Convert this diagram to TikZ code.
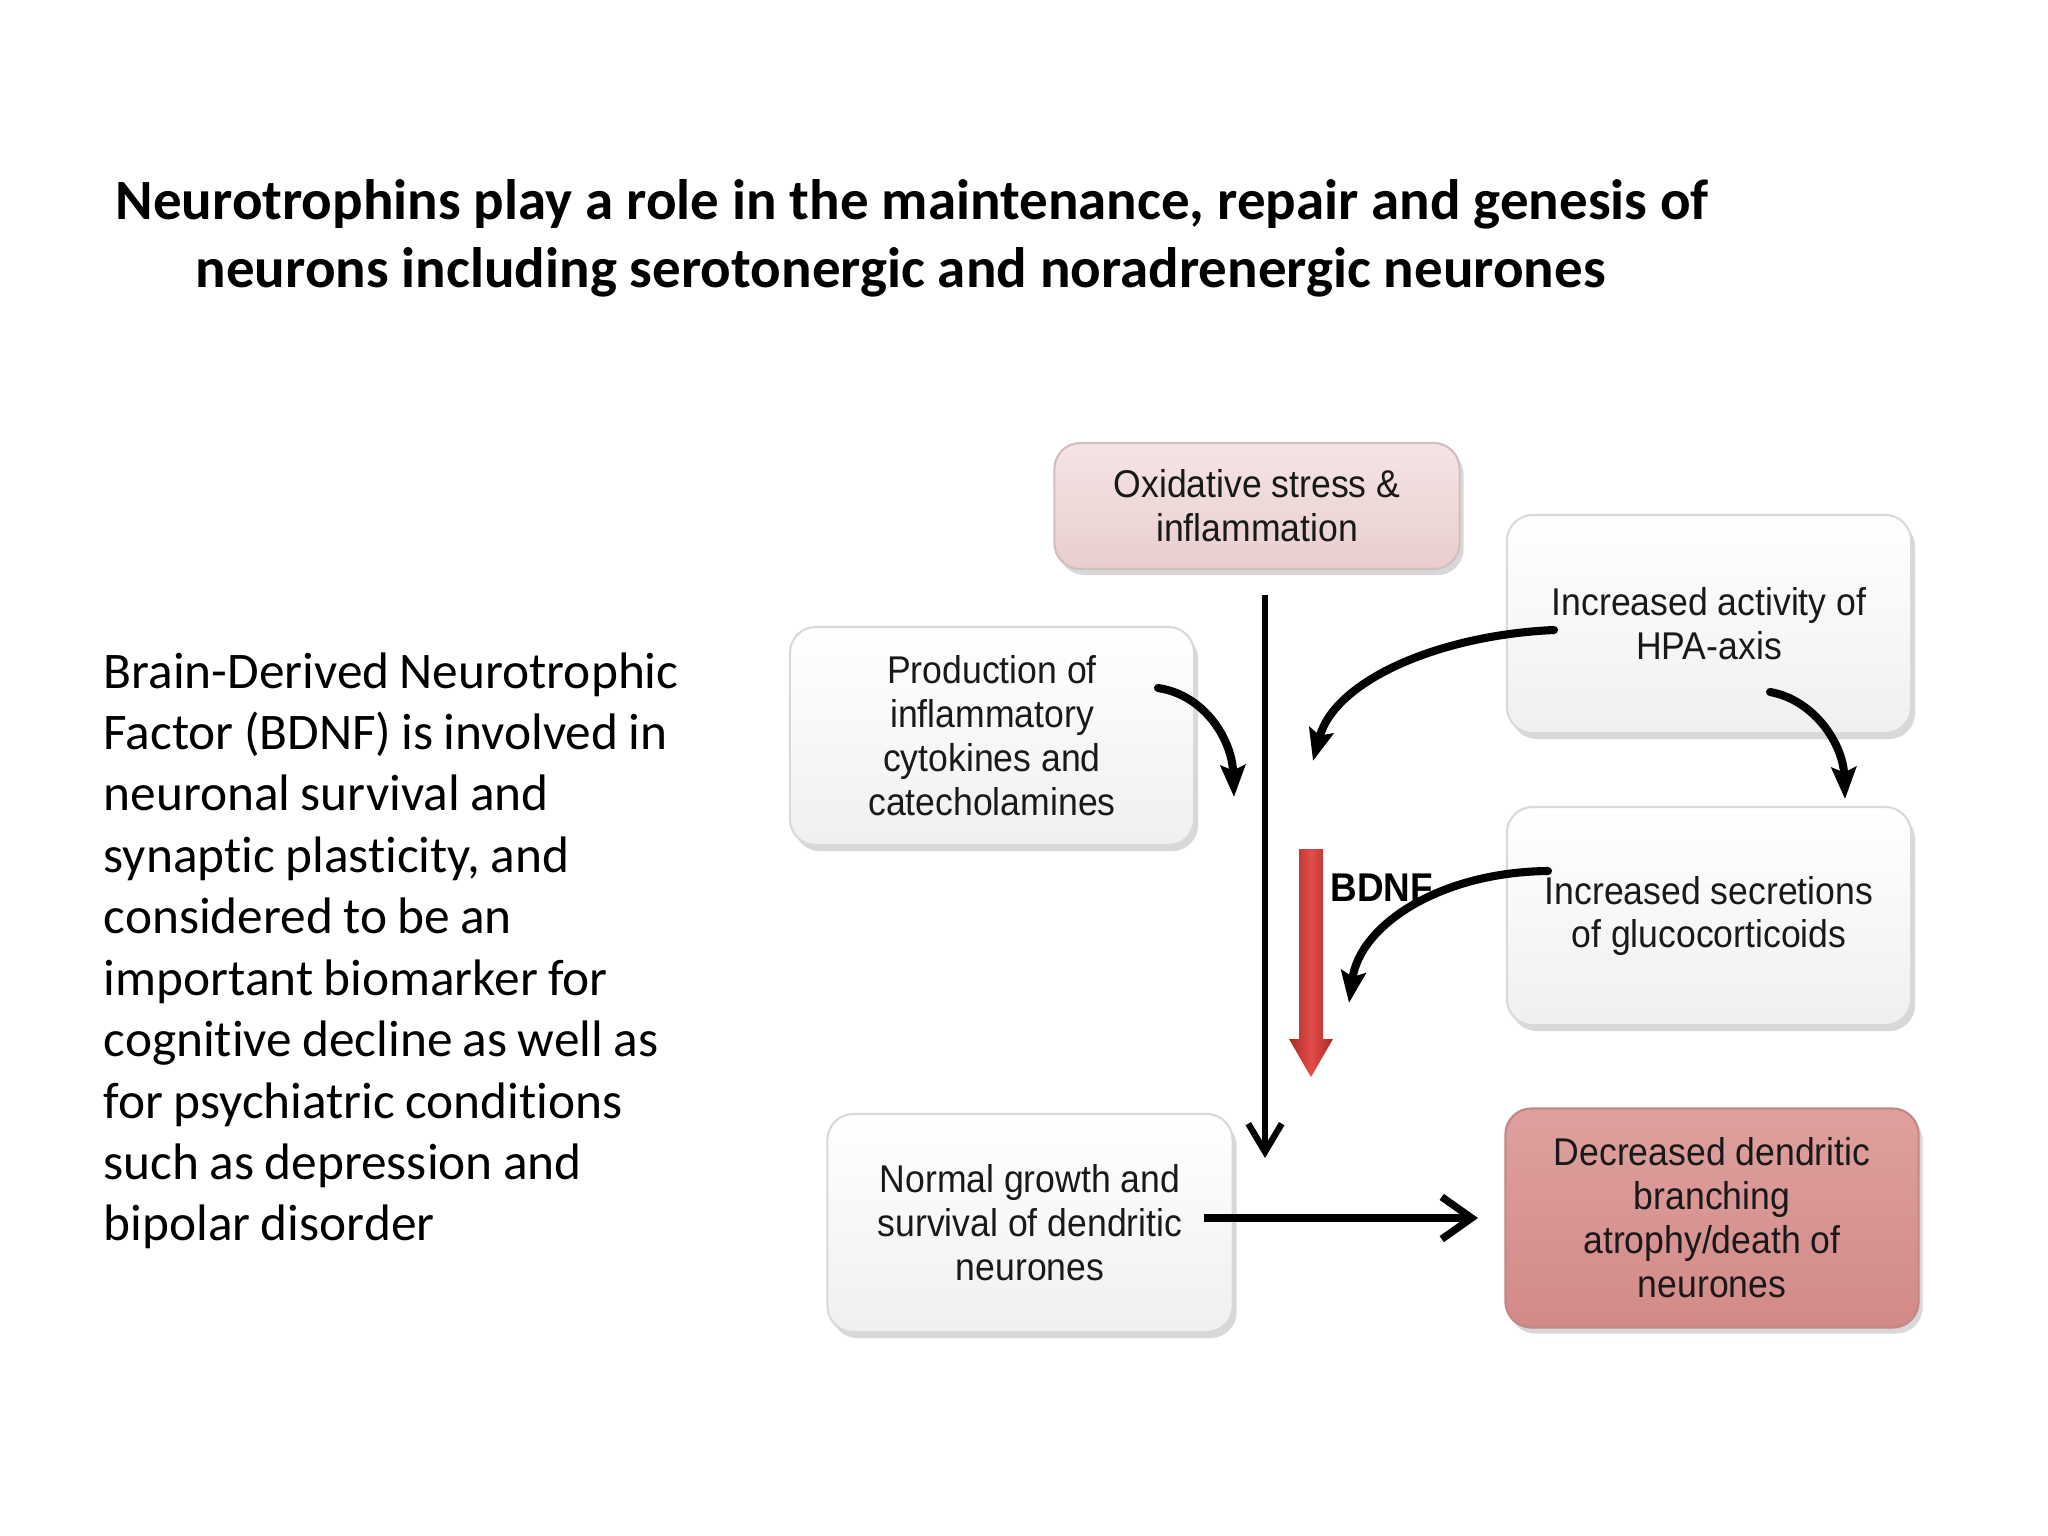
\documentclass[tikz,border=0pt]{standalone}
\usepackage{fontspec}
\setmainfont{Carlito}[Ligatures=NoCommon]
\newfontfamily\boxfont[FakeStretch=0.92]{Liberation Sans}
\usetikzlibrary{arrows.meta,shadows}
\definecolor{pinkA}{RGB}{245,228,228}
\definecolor{pinkB}{RGB}{232,206,206}
\definecolor{roseA}{RGB}{222,160,158}
\definecolor{roseB}{RGB}{210,138,136}
\definecolor{redM}{RGB}{226,78,72}
\definecolor{redD}{RGB}{172,40,40}
\begin{document}
\begin{tikzpicture}[x=0.01cm,y=-0.01cm,
  box/.style={draw=gray!30, line width=0.6pt, rounded corners=0.26cm,
    top color=white, bottom color=gray!12,
    drop shadow={shadow xshift=0.04cm, shadow yshift=-0.06cm, opacity=0.3, fill=gray},
    font=\boxfont\fontsize{11}{12.5}\selectfont, align=center, text=black!90, inner sep=0pt},
  pinkbox/.style={box, top color=pinkA, bottom color=pinkB, draw=pinkB!80!gray},
  rosebox/.style={box, top color=roseA, bottom color=roseB, draw=roseB!80!gray},
  vline/.style={line width=1.8pt, -{Straight Barb[length=8pt,width=9.5pt,line width=1.8pt]}},
  hline/.style={line width=2.1pt, -{Straight Barb[length=8.5pt,width=12pt,line width=2.1pt]}},
  curve/.style={line width=2.3pt, line cap=round, -{Stealth[length=9pt,width=7pt,inset=1.5pt]}},
  title/.style={font=\bfseries\fontsize{16.2}{19}\selectfont, anchor=base west, inner sep=0pt},
]
\useasboundingbox[fill=white] (0,0) rectangle (2048,1536);

\node[title] (t1) at (115,219) {Neurotrophins play a role in the maintenance, repair and genesis of};
\node[title] (t2) at (195,287) {neurons including serotonergic and noradrenergic neurones};

\node[anchor=base west, inner sep=0pt, text width=8cm, align=left,
  font=\fontsize{14.6}{17.47}\selectfont] (para) at (103,688)
 {\spaceskip=0.2em\relax\xspaceskip=0.2em\relax
  Brain-Derived Neurotrophic\\
  Factor (BDNF) is involved in\\
  neuronal survival and\\
  synaptic plasticity, and\\
  considered to be an\\
  important biomarker for\\
  cognitive decline as well as\\
  for psychiatric conditions\\
  such as depression and\\
  bipolar disorder};

\node[pinkbox, minimum width=4.05cm, minimum height=1.26cm] (ox) at (1257,506) {Oxidative stress \&\\inflammation};
\node[box, minimum width=4.04cm, minimum height=2.18cm] (hpa) at (1709,624) {Increased activity of\\HPA-axis};
\node[box, minimum width=4.04cm, minimum height=2.18cm] (prod) at (992,736) {Production of\\inflammatory\\cytokines and\\catecholamines};
\node[box, minimum width=4.04cm, minimum height=2.18cm] (gluco) at (1709,916) {Increased secretions\\of glucocorticoids};
\node[box, minimum width=4.05cm, minimum height=2.18cm] (normal) at (1030,1223) {Normal growth and\\survival of dendritic\\neurones};
\node[rosebox, minimum width=4.13cm, minimum height=2.19cm] (decr) at (1712,1218) {Decreased dendritic\\branching\\atrophy/death of\\neurones};

% vertical main arrow
\coordinate (vtop) at (1265,595);
\coordinate (vend) at (1265,1158);
\draw[vline] (vtop) -- (vend);

% BDNF red arrow
\shade[left color=redD, right color=redD, middle color=redM]
  (1299,849) -- (1323,849) -- (1323,1039) -- (1333,1039) -- (1311,1077) -- (1289,1039) -- (1299,1039) -- cycle;
\node[font=\boxfont\bfseries\fontsize{11.4}{13}\selectfont, anchor=base west, inner sep=0pt] (bdnf) at (1330,901) {BDNF};

% curved arrows
\coordinate (c1s) at (1158,688); \coordinate (c1e) at (1234,797);
\draw[curve] (c1s) .. controls (1205,695) and (1232,740) .. (c1e);
\coordinate (c2s) at (1554,630); \coordinate (c2e) at (1313,761);
\draw[curve] (c2s) .. controls (1440,635) and (1335,680) .. (c2e);
\coordinate (c3s) at (1770,692); \coordinate (c3e) at (1845,799);
\draw[curve] (c3s) .. controls (1815,700) and (1843,745) .. (c3e);
\coordinate (c4s) at (1548,871); \coordinate (c4e) at (1349,1003);
\draw[curve] (c4s) .. controls (1440,872) and (1360,925) .. (c4e);

% horizontal arrow
\coordinate (hs) at (1204,1218);
\coordinate (he) at (1478,1218);
\draw[hline] (hs) -- (he);
\end{tikzpicture}
\end{document}
